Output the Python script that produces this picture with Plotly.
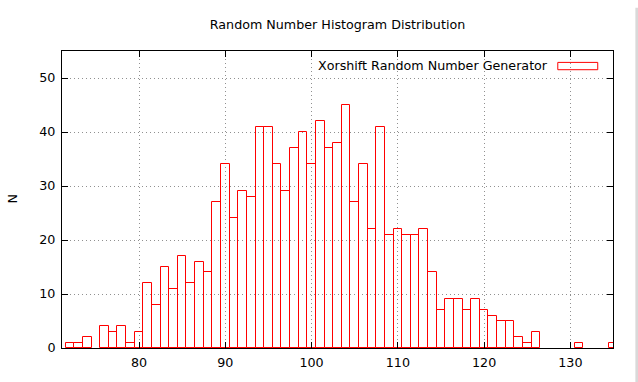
import plotly.graph_objects as go

# Histogram bins (bin centres) and counts
bin_centers = [72, 73, 74, 75, 76, 77, 78, 79, 80, 81, 82, 83, 84, 85, 86, 87, 88, 89,
               90, 91, 92, 93, 94, 95, 96, 97, 98, 99, 100, 101, 102, 103, 104, 105,
               106, 107, 108, 109, 110, 111, 112, 113, 114, 115, 116, 117, 118, 119,
               120, 121, 122, 123, 124, 125, 126, 131, 135]
counts = [1, 1, 2, 0, 4, 3, 4, 1, 3, 12, 8, 15, 11, 17, 12, 16, 14, 27,
          34, 24, 29, 28, 41, 41, 34, 29, 37, 40, 34, 42, 37, 38, 45, 27,
          34, 22, 41, 21, 22, 21, 21, 22, 14, 7, 9, 9, 7, 9,
          7, 6, 5, 5, 2, 1, 3, 1, 1]
x_ticks = [80, 90, 100, 110, 120, 130]
y_ticks = [0, 10, 20, 30, 40, 50]
series_name = "Xorshift Random Number Generator"
title_text = "Random Number Histogram Distribution"
y_label = "N"

xs = [c for c, n in zip(bin_centers, counts) if n > 0]
ys = [n for n in counts if n > 0]

FONT = "DejaVu Sans"
FS = 12.7
RED = "#ff0000"

fig = go.Figure()
fig.add_trace(go.Bar(
    x=xs, y=ys, width=1,
    marker=dict(color="rgba(0,0,0,0)", line=dict(color=RED, width=1)),
    name=series_name, showlegend=False, hoverinfo="skip",
))

axis_common = dict(
    showline=True, linecolor="black", linewidth=1, mirror="ticks",
    ticks="inside", ticklen=6, tickcolor="black", tickwidth=1,
    showgrid=True, gridcolor="#909090", griddash="1px,3px", gridwidth=1,
    zeroline=False,
    tickfont=dict(family=FONT, size=FS, color="black"),
)

fig.update_layout(
    width=638, height=382,
    margin=dict(l=61.5, r=24.7, t=51.3, b=34),
    paper_bgcolor="white", plot_bgcolor="white",
    font=dict(family=FONT, size=FS, color="black"),
    title=dict(text=title_text, x=0.5, xref="paper", xanchor="center",
               y=1 - 25 / 382, yref="container", yanchor="middle",
               font=dict(family=FONT, size=FS, color="black")),
    bargap=0,
    xaxis=dict(range=[71.07, 134.94], tickvals=x_ticks, ticklabelstandoff=3,
               **axis_common),
    yaxis=dict(range=[0, 55], tickvals=y_ticks, ticklabelstandoff=3,
               **axis_common),
    showlegend=False,
)

# Legend-like key (gnuplot style: text followed by an outlined sample box)
fig.add_annotation(text=series_name, xref="paper", yref="paper",
                   x=0.8853, y=0.9505, xanchor="right", yanchor="middle",
                   showarrow=False, font=dict(family=FONT, size=FS, color="black"))
fig.add_shape(type="rect", xref="paper", yref="paper",
              x0=0.8998, x1=0.9723, y0=0.937, y1=0.9616,
              line=dict(color=RED, width=1), fillcolor="rgba(0,0,0,0)")

# Y axis label
fig.add_annotation(text=y_label, xref="paper", yref="paper",
                   x=(12 - 61.5) / 551.8, y=(348 - 199) / 296.7,
                   xanchor="center", yanchor="middle", textangle=-90,
                   showarrow=False, font=dict(family=FONT, size=FS, color="black"))

# Thin grey window edge at the far right of the image
fig.add_shape(type="rect", xref="paper", yref="paper",
              x0=(635.7 - 61.5) / 551.8, x1=(640 - 61.5) / 551.8,
              y0=-40 / 296.7, y1=340 / 296.7,
              line=dict(width=0), fillcolor="#d9d9d9", layer="above")

fig.write_html("out.html", config={"displayModeBar": False},
               post_script="document.body.style.margin='0';")
